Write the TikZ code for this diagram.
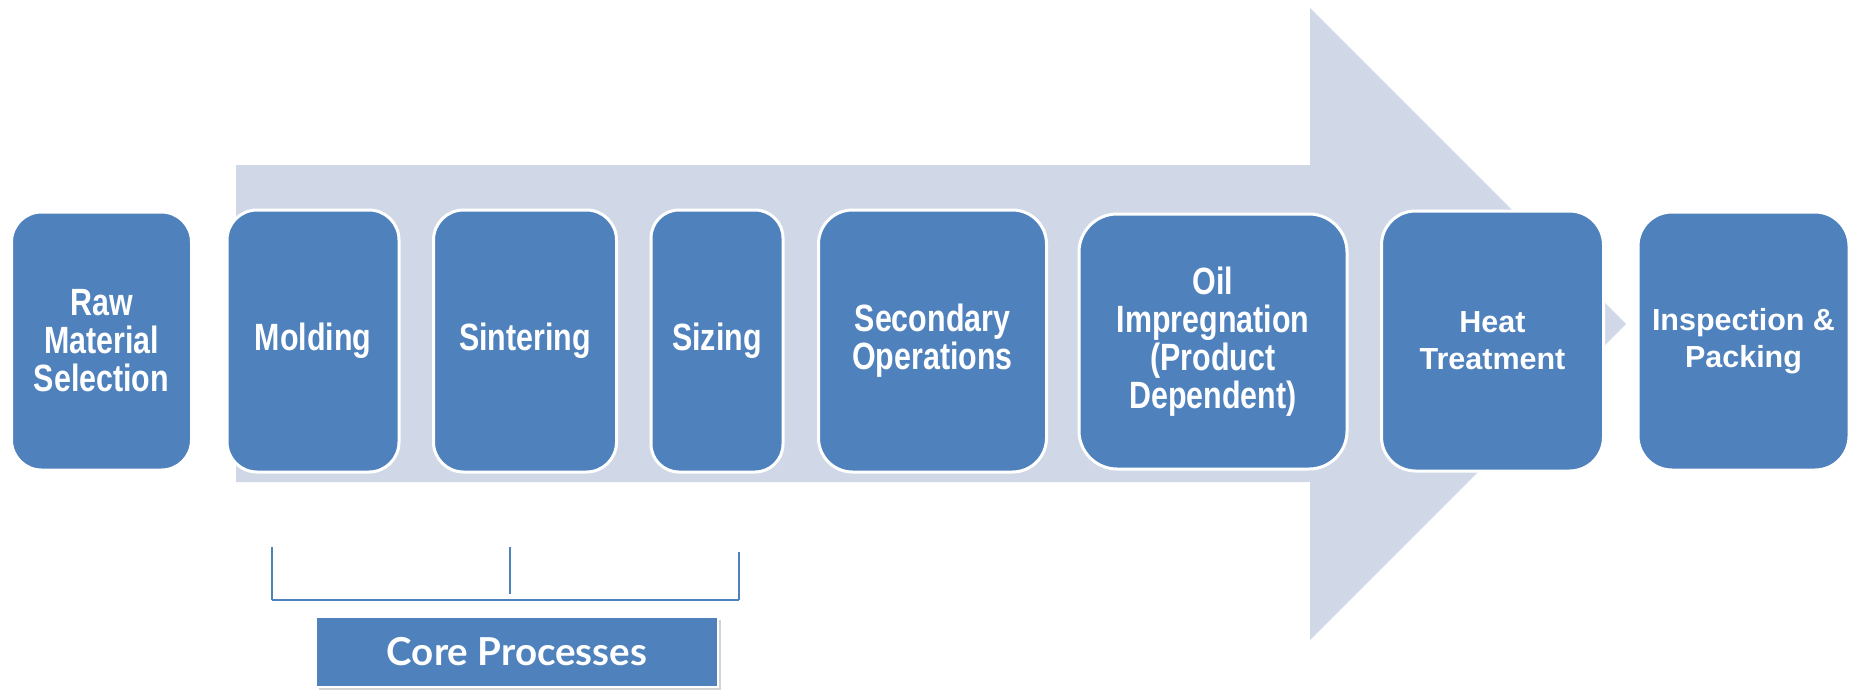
\documentclass[tikz,border=0pt]{standalone}
\usepackage{fontspec}
\setmainfont{Liberation Sans}
\newfontfamily\narrowfont[FakeStretch=0.8]{Liberation Sans}
\newfontfamily\widefont{Liberation Sans}
\newfontfamily\corefont{Lato}
\usetikzlibrary{shadows}
\definecolor{boxblue}{HTML}{4F81BD}
\definecolor{bandgray}{HTML}{D0D8E8}
\begin{document}
\begin{tikzpicture}[x=1pt,y=-1pt,
  stepbox/.style={rectangle, rounded corners=30pt, fill=boxblue, draw=white, line width=3pt,
     inner sep=0pt, align=center, text=white, font=\narrowfont\bfseries\fontsize{38}{38}\selectfont},
  widebox/.style={stepbox, font=\widefont\bfseries\fontsize{30.5}{37}\selectfont},
  bracketline/.style={draw=boxblue, line width=2pt},
  corebox/.style={rectangle, fill=boxblue, draw=white, line width=2pt, inner sep=0pt,
     text=white, font=\corefont\bfseries\fontsize{38.5}{42}\selectfont,
     drop shadow={opacity=0.35, shadow xshift=3pt, shadow yshift=-3pt}}]
\useasboundingbox (0,0) rectangle (1851,690);
% big background arrow
\fill[bandgray] (236,165) -- (1310,165) -- (1310,8) -- (1626,324) -- (1310,640)
   -- (1310,482) -- (236,482) -- cycle;
% steps
\node[stepbox, minimum width=180pt, minimum height=258pt] (raw) at (101.5,341) {Raw\\Material\\Selection};
\node[stepbox, minimum width=172pt, minimum height=262pt] (mold) at (313,341) {Molding};
\node[stepbox, minimum width=183pt, minimum height=262pt] (sint) at (525,341) {Sintering};
\node[stepbox, minimum width=132pt, minimum height=262pt, rounded corners=28pt] (siz) at (717,341) {Sizing};
\node[stepbox, minimum width=228pt, minimum height=262pt, rounded corners=34pt] (sec) at (932.5,341) {Secondary\\Operations};
\node[stepbox, minimum width=268pt, minimum height=255pt, rounded corners=38pt] (oil) at (1213,341.5) {Oil\\Impregnation\\(Product\\Dependent)};
\node[widebox, minimum width=222pt, minimum height=260pt, rounded corners=34pt] (heat) at (1492.5,341) {Heat\\Treatment};
\node[widebox, minimum width=211pt, minimum height=258pt, rounded corners=34pt] (insp) at (1743.5,341) {Inspection \&\\Packing};
% bracket
\coordinate (b1t) at (272,547);
\coordinate (b1b) at (272,600);
\coordinate (b2t) at (510,547);
\coordinate (b2b) at (510,594);
\coordinate (b3t) at (739,552);
\coordinate (b3b) at (739,600);
\draw[bracketline] (b1t) -- (b1b);
\draw[bracketline] (b2t) -- (b2b);
\draw[bracketline] (b3t) -- (b3b);
\draw[bracketline] (b1b) -- (b3b);
% core processes label
\node[corebox, minimum width=402pt, minimum height=70pt] (core) at (517,652) {Core Processes};
\end{tikzpicture}
\end{document}
